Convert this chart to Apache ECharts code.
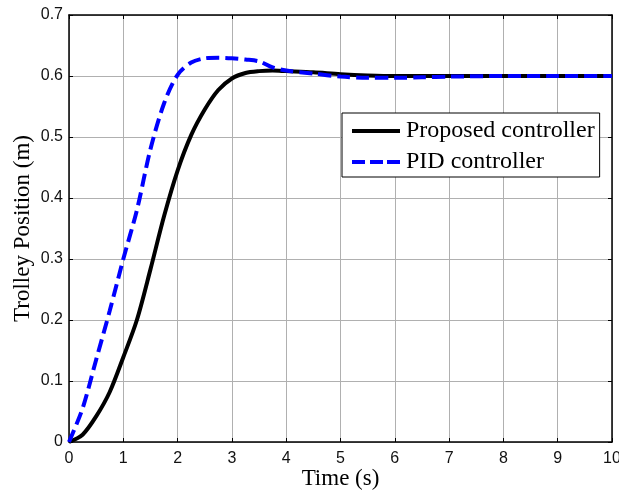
<!DOCTYPE html>
<html>
<head>
<meta charset="utf-8">
<script src="https://cdn.jsdelivr.net/npm/echarts@6/dist/echarts.min.js"></script>
<style>
  html, body { margin: 0; padding: 0; background: #fff; }
  #chart { width: 619px; height: 492px; }
</style>
</head>
<body>
<div id="chart"></div>
<script>
// time samples (s)
const timeProposed = [0, 0.25, 0.5, 0.75, 1.0, 1.25, 1.5, 1.75, 2.0, 2.25, 2.5, 2.75, 3.0, 3.25, 3.5, 3.75, 4.0, 4.5, 5.0, 5.5, 6.0, 7.0, 8.0, 9.0, 10.0]
const posProposed = [0, 0.012, 0.042, 0.082, 0.139, 0.2, 0.283, 0.37, 0.445, 0.503, 0.545, 0.577, 0.596, 0.605, 0.608, 0.609, 0.608, 0.606, 0.603, 0.601, 0.6, 0.6, 0.6, 0.6, 0.6]

const timePID = [0, 0.25, 0.5, 0.75, 1.0, 1.25, 1.5, 1.75, 2.0, 2.25, 2.5, 2.75, 3.0, 3.25, 3.5, 3.75, 4.0, 4.5, 5.0, 5.5, 6.0, 6.5, 7.0, 8.0, 9.0, 10.0]
const posPID = [0, 0.055, 0.135, 0.215, 0.3, 0.38, 0.48, 0.555, 0.602, 0.622, 0.629, 0.63, 0.629, 0.627, 0.624, 0.614, 0.609, 0.604, 0.599, 0.597, 0.597, 0.598, 0.599, 0.6, 0.6, 0.6]

const seriesNames = ['Proposed controller', 'PID controller']
const xTicks = [0, 1, 2, 3, 4, 5, 6, 7, 8, 9, 10]
const yTicks = [0, 0.1, 0.2, 0.3, 0.4, 0.5, 0.6, 0.7]

const chart = echarts.init(document.getElementById('chart'))

const zip = (xs, ys) => xs.map((x, i) => [x, ys[i]])

// legend icons: solid bar and dashed bar
const solidIcon = 'path://M0,0h48v4h-48z'
const dashIcon = 'path://M0,0h13v4h-13zM18,0h13v4h-13zM35,0h13v4h-13z'

const axisBase = {
  axisLine: { show: true, onZero: false, lineStyle: { color: '#000', width: 1.5 } },
  axisTick: { show: true, inside: true, length: 4, lineStyle: { color: '#000' } },
  axisLabel: { color: '#111', fontFamily: 'Liberation Sans', fontSize: 16 }
}

const option = {
  backgroundColor: '#fff',
  animation: false,
  grid: { left: 69, right: 7, top: 15, bottom: 50, outerBoundsMode: 'none', containLabel: false },
  legend: {
    data: [
      { name: seriesNames[0], icon: solidIcon },
      { name: seriesNames[1], icon: dashIcon }
    ],
    orient: 'vertical',
    left: 342,
    top: 113,
    padding: [5, 5, 2, 10],
    itemGap: 5,
    itemWidth: 48,
    itemHeight: 5,
    borderColor: '#000',
    borderWidth: 1,
    borderRadius: 0,
    backgroundColor: '#fff',
    textStyle: { fontFamily: 'Liberation Serif', fontSize: 24, color: '#000', lineHeight: 26, padding: [0, 0, 0, 1] }
  },
  xAxis: [
    {
      ...axisBase,
      type: 'value',
      min: 0,
      max: 10,
      interval: 1,
      name: 'Time (s)',
      nameLocation: 'middle',
      nameGap: 25,
      nameMoveOverlap: false,
      nameTextStyle: { fontFamily: 'Liberation Serif', fontSize: 23, color: '#000' },
      splitLine: { show: true, lineStyle: { color: '#b0b0b0', width: 1 } },
      axisLabel: { ...axisBase.axisLabel, margin: 9, formatter: v => xTicks.includes(v) ? String(v) : '' }
    },
    {
      ...axisBase,
      type: 'value',
      position: 'top',
      min: 0,
      max: 10,
      interval: 1,
      axisLabel: { show: false },
      splitLine: { show: false }
    }
  ],
  yAxis: [
    {
      ...axisBase,
      type: 'value',
      min: 0,
      max: 0.7,
      interval: 0.1,
      name: 'Trolley Position (m)',
      nameLocation: 'middle',
      nameGap: 35,
      nameMoveOverlap: false,
      nameTextStyle: { fontFamily: 'Liberation Serif', fontSize: 23, color: '#000' },
      splitLine: { show: true, lineStyle: { color: '#b0b0b0', width: 1 } },
      axisLabel: {
        ...axisBase.axisLabel,
        margin: 6,
        formatter: v => {
          const t = yTicks.find(y => Math.abs(y - v) < 1e-6)
          return t === undefined ? '' : (t === 0 ? '0' : t.toFixed(1))
        }
      }
    },
    {
      ...axisBase,
      type: 'value',
      position: 'right',
      min: 0,
      max: 0.7,
      interval: 0.1,
      axisLabel: { show: false },
      splitLine: { show: false }
    }
  ],
  series: [
    {
      name: seriesNames[0],
      type: 'line',
      smooth: 0.3,
      symbol: 'none',
      data: zip(timeProposed, posProposed),
      lineStyle: { color: '#000', width: 4 },
      itemStyle: { color: '#000' },
      z: 3
    },
    {
      name: seriesNames[1],
      type: 'line',
      smooth: 0.3,
      symbol: 'none',
      data: zip(timePID, posPID),
      lineStyle: { color: '#0000ff', width: 4, type: [13, 6] },
      itemStyle: { color: '#0000ff' },
      z: 4
    }
  ]
}

chart.setOption(option)
</script>
</body>
</html>
